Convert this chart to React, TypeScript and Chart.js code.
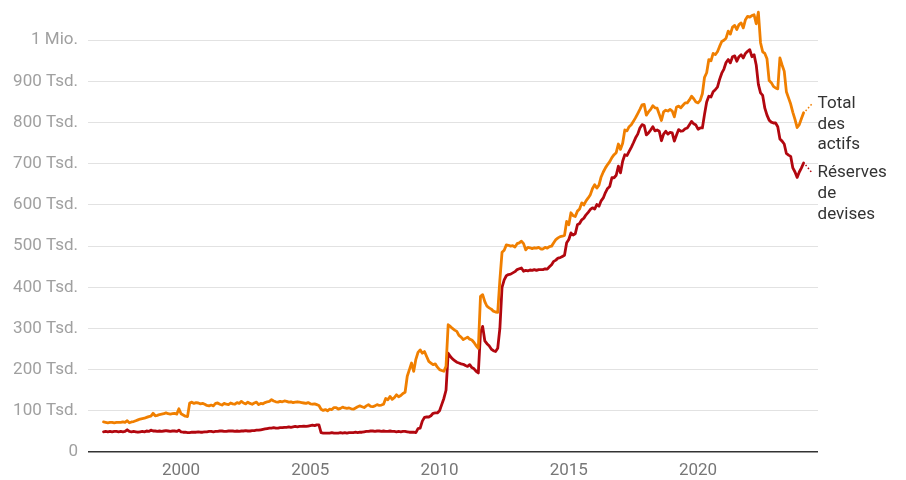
import React, { useEffect, useRef } from 'react';
import { Chart, registerables } from 'chart.js';

Chart.register(...registerables);

// Monthly data, first value = January 1997 (values in thousand million CHF, "Tsd." = thousand)
const START_YEAR = 1997;

const X_TICKS = [2000, 2005, 2010, 2015, 2020];
const Y_TICKS = [0, 100, 200, 300, 400, 500, 600, 700, 800, 900, 1000];

const totalAssets = [
  73, 72, 71, 72, 72, 71, 72, 72, 72, 73, 72, 76, // 1997
  71, 73, 74, 76, 78, 80, 81, 82, 84, 86, 87, 94, // 1998
  88, 89, 91, 92, 93, 95, 93, 92, 93, 94, 92, 105, // 1999
  93, 90, 87, 86, 119, 121, 118, 120, 119, 117, 118, 116, // 2000
  113, 112, 114, 112, 118, 119, 116, 114, 118, 116, 115, 119, // 2001
  117, 116, 120, 118, 123, 119, 117, 121, 118, 116, 119, 121, // 2002
  115, 118, 117, 120, 122, 123, 127, 124, 122, 121, 123, 122, // 2003
  124, 123, 121, 122, 120, 121, 122, 121, 120, 119, 118, 120, // 2004
  117, 116, 117, 115, 113, 104, 101, 103, 100, 104, 103, 108, // 2005
  108, 104, 106, 109, 107, 106, 107, 105, 104, 107, 110, 112, // 2006
  110, 108, 112, 115, 111, 110, 112, 115, 113, 114, 116, 130, // 2007
  127, 135, 128, 132, 139, 134, 137, 142, 145, 184, 200, 216, // 2008
  196, 225, 242, 248, 240, 244, 232, 220, 216, 212, 214, 206, // 2009
  200, 198, 196, 208, 309, 305, 300, 296, 293, 283, 279, 273, // 2010
  276, 279, 274, 272, 266, 258, 252, 378, 382, 365, 354, 350, // 2011
  347, 342, 340, 339, 418, 485, 490, 503, 502, 500, 501, 498, // 2012
  506, 508, 512, 506, 491, 497, 496, 494, 496, 495, 497, 493, // 2013
  493, 497, 495, 499, 500, 508, 516, 520, 523, 524, 526, 560, // 2014
  552, 581, 574, 572, 585, 590, 605, 600, 610, 617, 625, 640, // 2015
  649, 641, 648, 668, 680, 690, 698, 705, 715, 722, 727, 748, // 2016
  735, 750, 782, 780, 790, 795, 803, 812, 822, 832, 843, 844, // 2017
  818, 826, 832, 841, 836, 835, 820, 805, 826, 830, 828, 832, // 2018
  828, 814, 838, 840, 836, 842, 848, 848, 855, 864, 858, 850, // 2019
  848, 854, 870, 910, 921, 953, 950, 968, 965, 972, 985, 997, // 2020
  1000, 1005, 1022, 1015, 1032, 1036, 1026, 1038, 1042, 1030, 1050, 1058, // 2021
  1056, 1060, 1062, 1040, 1068, 994, 972, 968, 955, 902, 897, 888, // 2022
  884, 882, 957, 940, 925, 875, 860, 845, 825, 808, 788, 795, // 2023
  810, 824, // 2024
];

const fxReserves = [
  49, 50, 49, 50, 49, 50, 50, 49, 50, 49, 50, 54, // 1997
  50, 49, 50, 49, 48, 49, 50, 49, 51, 50, 53, 51, // 1998
  51, 50, 51, 50, 51, 52, 51, 50, 51, 51, 50, 53, // 1999
  49, 48, 48, 47, 47, 48, 48, 48, 49, 48, 48, 49, // 2000
  49, 50, 50, 49, 50, 50, 51, 51, 50, 50, 51, 51, // 2001
  51, 50, 51, 50, 51, 51, 52, 51, 51, 52, 52, 53, // 2002
  53, 54, 55, 56, 57, 58, 58, 59, 58, 58, 59, 59, // 2003
  60, 60, 61, 60, 61, 62, 61, 62, 62, 63, 62, 63, // 2004
  64, 65, 64, 66, 66, 47, 46, 46, 46, 46, 47, 46, // 2005
  46, 46, 47, 46, 47, 46, 47, 47, 47, 48, 47, 48, // 2006
  48, 49, 50, 50, 51, 51, 50, 51, 51, 50, 51, 50, // 2007
  50, 51, 50, 50, 49, 50, 49, 50, 50, 49, 48, 48, // 2008
  48, 47, 57, 58, 75, 84, 85, 85, 88, 94, 95, 95, // 2009
  100, 115, 130, 150, 240, 232, 226, 222, 218, 216, 214, 213, // 2010
  210, 208, 212, 205, 202, 196, 192, 290, 305, 270, 263, 258, // 2011
  250, 246, 244, 252, 300, 400, 418, 428, 431, 432, 435, 438, // 2012
  443, 445, 447, 439, 441, 440, 442, 441, 443, 441, 443, 443, // 2013
  443, 445, 444, 450, 455, 463, 466, 471, 472, 475, 478, 508, // 2014
  516, 532, 527, 530, 552, 555, 564, 568, 576, 582, 589, 593, // 2015
  590, 601, 597, 610, 617, 630, 640, 645, 666, 666, 672, 694, // 2016
  678, 706, 722, 720, 730, 740, 751, 763, 772, 787, 795, 793, // 2017
  770, 775, 782, 790, 780, 782, 779, 756, 772, 779, 772, 776, // 2018
  775, 755, 770, 783, 779, 780, 785, 787, 795, 803, 797, 794, // 2019
  784, 787, 787, 820, 850, 864, 862, 875, 880, 886, 905, 920, // 2020
  930, 946, 953, 945, 960, 962, 949, 960, 965, 957, 968, 973, // 2021
  977, 960, 965, 940, 893, 872, 866, 835, 818, 806, 801, 799, // 2022
  799, 790, 760, 755, 748, 725, 721, 718, 690, 680, 667, 680, // 2023
  690, 702, // 2024
];

const TOTAL_LABEL = ['Total', 'des', 'actifs'];
const FX_LABEL = ['Réserves', 'de', 'devises'];

const ORANGE = '#f07f00';
const RED = '#b2070f';
const FONT = 'Roboto';
const FONT_SIZE = 17;

function toPoints(values: number[]) {
  return values.map((v, i) => ({ x: START_YEAR + i / 12, y: v }));
}

function formatY(v: number) {
  if (v === 0) return '0';
  if (v === 1000) return '1 Mio.';
  return `${v} Tsd.`;
}

const endLabels = {
  id: 'endLabels',
  afterDatasetsDraw(chart: any) {
    const ctx = chart.ctx;
    const offsets = [-9, 10];
    chart.data.datasets.forEach((ds: any, di: number) => {
      const meta = chart.getDatasetMeta(di);
      const pt = meta.data[meta.data.length - 1];
      if (!pt) return;
      const lx = pt.x;
      const ly = pt.y;
      const ay = ly + offsets[di];
      ctx.save();
      ctx.strokeStyle = ds.borderColor;
      ctx.lineWidth = 1.5;
      ctx.setLineDash([1.5, 2.2]);
      ctx.beginPath();
      ctx.moveTo(lx + 2, ly + (ay - ly) * 0.2);
      ctx.lineTo(lx + 8.5, ay);
      ctx.stroke();
      ctx.setLineDash([]);
      ctx.fillStyle = '#333333';
      ctx.font = `${FONT_SIZE}px ${FONT}`;
      ctx.textAlign = 'left';
      ctx.textBaseline = 'middle';
      (ds.endLabel as string[]).forEach((line, i) => {
        ctx.fillText(line, lx + 14, ay + i * 20.7);
      });
      ctx.restore();
    });
  },
};

export default function App() {
  const ref = useRef<HTMLCanvasElement>(null);

  useEffect(() => {
    document.body.style.margin = '0';
    const canvas = ref.current;
    if (!canvas) return;
    const chart = new Chart(canvas, {
      type: 'line',
      data: {
        datasets: [
          {
            label: 'Total des actifs',
            data: toPoints(totalAssets),
            borderColor: ORANGE,
            backgroundColor: ORANGE,
            borderWidth: 2.8,
            pointRadius: 0,
            tension: 0,
            borderJoinStyle: 'round',
            borderCapStyle: 'round',
            endLabel: TOTAL_LABEL,
          } as any,
          {
            label: 'Réserves de devises',
            data: toPoints(fxReserves),
            borderColor: RED,
            backgroundColor: RED,
            borderWidth: 2.8,
            pointRadius: 0,
            tension: 0,
            borderJoinStyle: 'round',
            borderCapStyle: 'round',
            endLabel: FX_LABEL,
          } as any,
        ],
      },
      options: {
        animation: false,
        responsive: false,
        devicePixelRatio: 1,
        layout: { padding: { top: 4, right: 88, left: 0, bottom: 0 } },
        plugins: {
          legend: { display: false },
          tooltip: { enabled: false },
        },
        scales: {
          x: {
            type: 'linear',
            min: 1996.4,
            max: 2024.64,
            afterBuildTicks: (s: any) => {
              s.ticks = X_TICKS.map((v) => ({ value: v }));
            },
            afterFit: (s: any) => {
              s.height = 28;
              s.paddingLeft = 0;
              s.paddingRight = 0;
            },
            grid: { display: false, drawTicks: false },
            border: { display: false },
            ticks: {
              padding: 9,
              color: '#777777',
              font: { family: FONT, size: FONT_SIZE },
              maxRotation: 0,
              autoSkip: false,
              callback: (v: any) => String(v),
            },
          },
          y: {
            type: 'linear',
            min: 0,
            max: 1088,
            afterBuildTicks: (s: any) => {
              s.ticks = Y_TICKS.map((v) => ({ value: v }));
            },
            afterFit: (s: any) => {
              s.width = 88;
              s.paddingTop = 0;
              s.paddingBottom = 0;
            },
            grid: {
              drawTicks: false,
              color: (c: any) => (c.tick && c.tick.value === 0 ? '#333333' : '#e2e2e2'),
              lineWidth: (c: any) => (c.tick && c.tick.value === 0 ? 1.5 : 1),
            },
            border: { display: false },
            ticks: {
              padding: 10,
              color: '#a0a0a0',
              font: { family: FONT, size: FONT_SIZE },
              callback: (v: any) => formatY(Number(v)),
            },
          },
        },
      },
      plugins: [endLabels],
    } as any);
    return () => chart.destroy();
  }, []);

  return (
    <div style={{ width: 906, height: 480, position: 'relative' }}>
      <canvas ref={ref} width={906} height={480} style={{ display: 'block' }} />
    </div>
  );
}
